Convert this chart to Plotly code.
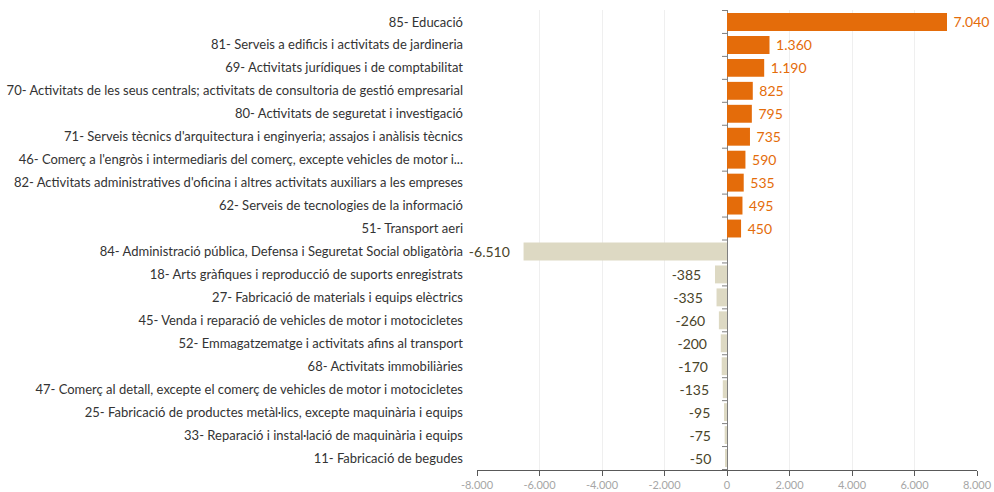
import plotly.graph_objects as go

# sectors (CCAE) and net change
categories = [
    "85- Educació",
    "81- Serveis a edificis i activitats de jardineria",
    "69- Activitats jurídiques i de comptabilitat",
    "70- Activitats de les seus centrals; activitats de consultoria de gestió empresarial",
    "80- Activitats de seguretat i investigació",
    "71- Serveis tècnics d'arquitectura i enginyeria; assajos i anàlisis tècnics",
    "46- Comerç a l'engròs i intermediaris del comerç, excepte vehicles de motor i...",
    "82- Activitats administratives d'oficina i altres activitats auxiliars a les empreses",
    "62- Serveis de tecnologies de la informació",
    "51- Transport aeri",
    "84- Administració pública, Defensa i Seguretat Social obligatòria",
    "18- Arts gràfiques i reproducció de suports enregistrats",
    "27- Fabricació de materials i equips elèctrics",
    "45- Venda i reparació de vehicles de motor i motocicletes",
    "52- Emmagatzematge i activitats afins al transport",
    "68- Activitats immobiliàries",
    "47- Comerç al detall, excepte el comerç de vehicles de motor i motocicletes",
    "25- Fabricació de productes metàl·lics, excepte maquinària i equips",
    "33- Reparació i instal·lació de maquinària i equips",
    "11- Fabricació de begudes",
]
values = [7040, 1360, 1190, 825, 795, 735, 590, 535, 495, 450,
          -6510, -385, -335, -260, -200, -170, -135, -95, -75, -50]
x_ticks = [-8000, -6000, -4000, -2000, 0, 2000, 4000, 6000, 8000]

ORANGE = "#E46C0A"
BEIGE = "#DDD9C3"
DARK = "#494429"
NBSP = "\u00a0"

def fmt(v):
    return f"{v:,}".replace(",", ".")

bar_colors = [ORANGE if v > 0 else BEIGE for v in values]
text_colors = [ORANGE if v > 0 else DARK for v in values]
bar_text = [NBSP + fmt(v) if v > 0 else fmt(v) + NBSP * 3 for v in values]

fig = go.Figure()
fig.add_trace(go.Bar(
    x=values, y=categories, orientation="h",
    marker=dict(color=bar_colors, line=dict(width=0)),
    text=bar_text,
    textposition="outside",
    textfont=dict(color=text_colors, size=14, family="Lato"),
    cliponaxis=False,
    hoverinfo="skip",
))

# small tick marks on the vertical axis (at zero), between categories
for i in range(len(categories) + 1):
    fig.add_shape(type="line", xref="x", yref="y", xsizemode="pixel",
                  xanchor=0, x0=-5, x1=0, y0=i - 0.5, y1=i - 0.5,
                  line=dict(color="#7F7F7F", width=1))

fig.update_layout(
    width=994, height=492,
    margin=dict(l=477, r=17, t=10, b=22, autoexpand=False),
    plot_bgcolor="white", paper_bgcolor="white",
    separators=",.",
    bargap=0.22,
    showlegend=False,
    font=dict(family="Lato", color="#333333"),
)
fig.update_xaxes(
    range=[-8000, 8000], tickvals=x_ticks,
    ticktext=[fmt(v) for v in x_ticks],
    tickfont=dict(size=11, color="#A6A6A6"),
    showgrid=True, gridcolor="#EFEFEF", gridwidth=1,
    zeroline=True, zerolinecolor="#7F7F7F", zerolinewidth=1,
    showline=True, linecolor="#595959", linewidth=1,
    ticks="outside", ticklen=5, tickcolor="#595959",
    automargin=False, fixedrange=True,
)
fig.update_yaxes(
    autorange="reversed",
    tickfont=dict(size=13, color="#333333"),
    ticklabelstandoff=13,
    showgrid=False, ticks="",
    automargin=False, fixedrange=True,
)

# the page's default body margin would shift the chart by 8px
fig.write_html("out.html", config={"displayModeBar": False},
               post_script="document.body.style.margin='0';")
